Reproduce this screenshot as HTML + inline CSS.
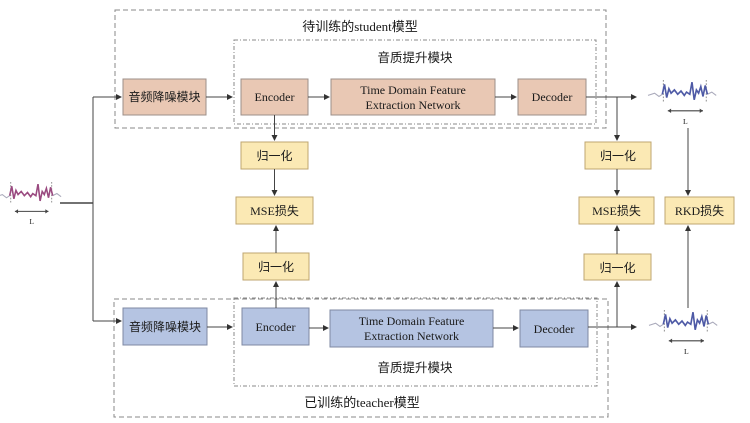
<!DOCTYPE html>
<html><head><meta charset="utf-8"><style>
html,body{margin:0;padding:0;background:#fff;}
svg{display:block;}
text{font-family:"Liberation Serif","Noto Serif CJK SC","Noto Sans CJK SC",serif;fill:#1a1a1a;}
.cj{font-family:"Noto Sans CJK SC","WenQuanYi Zen Hei",sans-serif;}
</style></head><body>
<svg width="750" height="423" viewBox="0 0 750 423" xmlns="http://www.w3.org/2000/svg">
<defs>
<marker id="a" markerWidth="6" markerHeight="6" refX="5" refY="3" orient="auto"><path d="M0,0 L6,3 L0,6 z" fill="#333"/></marker>
<g id="wavebase">
<path d="M0,14 L6,12 L10,15 L13,13" stroke="#aab" stroke-width="1" fill="none"/>
<path d="M54,13 L58,11 L62,14" stroke="#aab" stroke-width="1" fill="none"/>
<line x1="14" y1="0" x2="14" y2="20" stroke="#999" stroke-dasharray="1.5,1.5"/>
<line x1="53" y1="0" x2="53" y2="20" stroke="#999" stroke-dasharray="1.5,1.5"/>
<line x1="18" y1="28" x2="50" y2="28" stroke="#444" stroke-width="1"/>
<path d="M18,28 l3,-2 v4z M50,28 l-3,-2 v4z" fill="#444"/>
<text x="34" y="40" font-size="7" text-anchor="middle" font-family="Liberation Sans">L</text>
</g>
<path id="sig" d="M13,13 L15,4 L17,16 L19,8 L21,12 L24,9 L27,13 L30,10 L33,14 L35,11 L38,13 L40,2 L42,18 L44,9 L46,12 L48,6 L50,15 L52,5 L54,13" stroke-width="1.5" fill="none"/>
</defs>

<rect x="115" y="10" width="491" height="118" fill="none" stroke="#888" stroke-dasharray="5,3"/>
<rect x="234" y="40" width="362" height="84" fill="none" stroke="#888" stroke-dasharray="4,2,1,2"/>
<rect x="114" y="299" width="494" height="118" fill="none" stroke="#888" stroke-dasharray="5,3"/>
<rect x="234" y="298" width="363" height="88" fill="none" stroke="#888" stroke-dasharray="4,2,1,2"/>

<text x="360" y="31" font-size="13" text-anchor="middle" class="cj">待训练的<tspan font-family="Liberation Serif">student</tspan>模型</text>
<text x="415" y="62" font-size="12.5" text-anchor="middle" class="cj">音质提升模块</text>
<text x="415" y="372" font-size="12.5" text-anchor="middle" class="cj">音质提升模块</text>
<text x="362" y="407" font-size="13" text-anchor="middle" class="cj">已训练的<tspan font-family="Liberation Serif">teacher</tspan>模型</text>

<g fill="#e9c8b4" stroke="#9c8f8a">
<rect x="123" y="79" width="83" height="36"/>
<rect x="241" y="79" width="67" height="36"/>
<rect x="331" y="79" width="164" height="36"/>
<rect x="518" y="79" width="68" height="36"/>
</g>
<g fill="#b5c4e2" stroke="#7f89a3">
<rect x="123" y="308" width="84" height="37"/>
<rect x="242" y="308" width="67" height="37"/>
<rect x="330" y="310" width="163" height="37"/>
<rect x="520" y="310" width="68" height="37"/>
</g>
<g fill="#fbe9b4" stroke="#bfa670">
<rect x="241" y="142" width="67" height="27"/>
<rect x="236" y="197" width="77" height="27"/>
<rect x="243" y="253" width="66" height="27"/>
<rect x="585" y="142" width="66" height="27"/>
<rect x="579" y="197" width="75" height="27"/>
<rect x="584" y="254" width="67" height="26"/>
<rect x="665" y="197" width="69" height="27"/>
</g>

<g font-size="12">
<text x="164.5" y="101" text-anchor="middle" class="cj">音频降噪模块</text>
<text x="274.5" y="101" text-anchor="middle">Encoder</text>
<text x="413" y="94" text-anchor="middle">Time Domain Feature</text>
<text x="413" y="109" text-anchor="middle">Extraction Network</text>
<text x="552" y="101" text-anchor="middle">Decoder</text>
<text x="165" y="331" text-anchor="middle" class="cj">音频降噪模块</text>
<text x="275.5" y="331" text-anchor="middle">Encoder</text>
<text x="411.5" y="325" text-anchor="middle">Time Domain Feature</text>
<text x="411.5" y="340" text-anchor="middle">Extraction Network</text>
<text x="554" y="333" text-anchor="middle">Decoder</text>
<text x="274.5" y="160" text-anchor="middle" class="cj">归一化</text>
<text x="276" y="271" text-anchor="middle" class="cj">归一化</text>
<text x="618" y="160" text-anchor="middle" class="cj">归一化</text>
<text x="617.5" y="272" text-anchor="middle" class="cj">归一化</text>
<text x="274.5" y="215" text-anchor="middle">MSE<tspan class="cj">损失</tspan></text>
<text x="616.5" y="215" text-anchor="middle">MSE<tspan class="cj">损失</tspan></text>
<text x="699.5" y="215" text-anchor="middle">RKD<tspan class="cj">损失</tspan></text>
</g>

<g stroke="#444" stroke-width="1" fill="none">
<line x1="60" y1="203" x2="93" y2="203" stroke-width="1.5"/>
<line x1="93" y1="97" x2="93" y2="321"/>
<line x1="93" y1="97" x2="121" y2="97" marker-end="url(#a)"/>
<line x1="93" y1="321" x2="121" y2="321" marker-end="url(#a)"/>
<line x1="206" y1="97" x2="232" y2="97" marker-end="url(#a)"/>
<line x1="308" y1="97" x2="329" y2="97" marker-end="url(#a)"/>
<line x1="495" y1="97" x2="516" y2="97" marker-end="url(#a)"/>
<line x1="586" y1="97" x2="636" y2="97" marker-end="url(#a)"/>
<line x1="617" y1="97" x2="617" y2="140" marker-end="url(#a)"/>
<line x1="274.5" y1="115" x2="274.5" y2="140" marker-end="url(#a)"/>
<line x1="274.5" y1="169" x2="274.5" y2="195" marker-end="url(#a)"/>
<line x1="617" y1="169" x2="617" y2="195" marker-end="url(#a)"/>
<line x1="688" y1="128" x2="688" y2="195" marker-end="url(#a)"/>
<line x1="207" y1="327" x2="232" y2="327" marker-end="url(#a)"/>
<line x1="309" y1="328" x2="328" y2="328" marker-end="url(#a)"/>
<line x1="493" y1="328" x2="518" y2="328" marker-end="url(#a)"/>
<line x1="588" y1="327" x2="636" y2="327" marker-end="url(#a)"/>
<line x1="276" y1="308" x2="276" y2="282" marker-end="url(#a)"/>
<line x1="276" y1="253" x2="276" y2="226" marker-end="url(#a)"/>
<line x1="617" y1="327" x2="617" y2="282" marker-end="url(#a)"/>
<line x1="617" y1="254" x2="617" y2="226" marker-end="url(#a)"/>
<line x1="688" y1="308" x2="688" y2="226" marker-end="url(#a)"/>
</g>

<g transform="translate(-4,182) scale(1.05)"><use href="#wavebase"/><use href="#sig" stroke="#9a4a80"/></g>
<g transform="translate(648,80) scale(1.1)"><use href="#wavebase"/><use href="#sig" stroke="#4e5aa6"/></g>
<g transform="translate(649,310) scale(1.1)"><use href="#wavebase"/><use href="#sig" stroke="#4e5aa6"/></g>
</svg>
</body></html>
